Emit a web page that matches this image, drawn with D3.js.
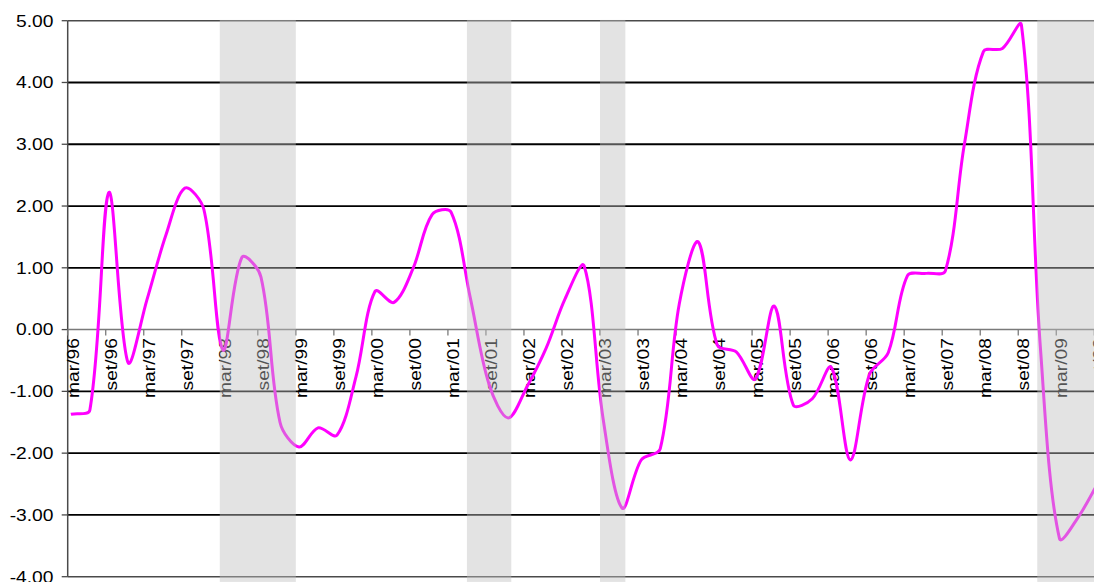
<!DOCTYPE html>
<html>
<head>
<meta charset="utf-8">
<script src="https://cdn.jsdelivr.net/npm/d3@7"></script>
<style>
  html, body { margin: 0; padding: 0; background: #fff; }
  svg { display: block; }
  text { font-family: "Liberation Sans", Arial, sans-serif; fill: #000; }
</style>
</head>
<body>
<svg id="chart" width="1094" height="582"></svg>
<script>
// Quarterly observations
const quarters = [
  "mar/96","jun/96","set/96","dez/96","mar/97","jun/97","set/97","dez/97",
  "mar/98","jun/98","set/98","dez/98","mar/99","jun/99","set/99","dez/99",
  "mar/00","jun/00","set/00","dez/00","mar/01","jun/01","set/01","dez/01",
  "mar/02","jun/02","set/02","dez/02","mar/03","jun/03","set/03","dez/03",
  "mar/04","jun/04","set/04","dez/04","mar/05","jun/05","set/05","dez/05",
  "mar/06","jun/06","set/06","dez/06","mar/07","jun/07","set/07","dez/07",
  "mar/08","jun/08","set/08","dez/08","mar/09","jun/09","set/09"
];
const values = [
  -1.37, -1.30,  2.22, -0.53,  0.48,  1.53,  2.29,  1.94,
  -0.33,  1.17,  0.85, -1.50, -1.90, -1.59, -1.71, -0.76,
   0.62,  0.44,  0.99,  1.86,  1.90,  0.53, -0.89, -1.43,
  -0.92, -0.30,  0.50,  1.03, -1.45, -2.89, -2.11, -1.93,
   0.41,  1.42, -0.25, -0.36, -0.80,  0.38, -1.22, -1.12,
  -0.61, -2.11, -0.73, -0.37,  0.87,  0.91,  0.95,  3.00,
   4.50,  4.55,  4.93, -0.30, -3.38, -3.03, -2.50
];

// Category-axis labels (every six months)
const tickLabels = [
  "mar/96","set/96","mar/97","set/97","mar/98","set/98","mar/99","set/99",
  "mar/00","set/00","mar/01","set/01","mar/02","set/02","mar/03","set/03",
  "mar/04","set/04","mar/05","set/05","mar/06","set/06","mar/07","set/07",
  "mar/08","set/08","mar/09","set/09"
];

// Value-axis ticks
const yTicks = [5, 4, 3, 2, 1, 0, -1, -2, -3, -4];

// Shaded periods: first month included, first month after
const shadedFrom = ["mar/98", "jun/01", "mar/03", "dez/08"];
const shadedTo   = ["mar/99", "jan/02", "jul/03", "set/09"];

const monthNum = {jan:0,fev:1,mar:2,abr:3,mai:4,jun:5,jul:6,ago:7,set:8,out:9,nov:10,dez:11};
function monthIndex(lbl) {
  const [m, yy] = lbl.split("/");
  const year = +yy > 50 ? 1900 + +yy : 2000 + +yy;
  return (year - 1996) * 12 + monthNum[m] - 2;
}

// Spreadsheet-style smoothed curve: cubic Béziers whose handle lengths
// are weighted by the lengths of the neighbouring segments.
function SmoothCurve(context) { this._context = context; }
SmoothCurve.prototype = {
  areaStart() {}, areaEnd() {},
  lineStart() { this._xs = []; this._ys = []; },
  point(px, py) { this._xs.push(+px); this._ys.push(+py); },
  lineEnd() {
    const xs = this._xs, ys = this._ys, n = xs.length, ctx = this._context;
    if (!n) return;
    const P = i => { const k = Math.max(0, Math.min(n - 1, i)); return [xs[k], ys[k]]; };
    const dist = (a, b) => Math.hypot(a[0] - b[0], a[1] - b[1]);
    const t = 1 / 3;
    ctx.moveTo(xs[0], ys[0]);
    for (let i = 0; i < n - 1; i++) {
      const p0 = P(i - 1), p1 = P(i), p2 = P(i + 1), p3 = P(i + 2);
      const d01 = dist(p0, p1), d12 = dist(p1, p2), d23 = dist(p2, p3);
      const f1 = (d01 + d12) > 0 ? t * d12 / (d01 + d12) : 0;
      const f2 = (d12 + d23) > 0 ? t * d12 / (d12 + d23) : 0;
      const c1 = [p1[0] + (p2[0] - p0[0]) * f1, p1[1] + (p2[1] - p0[1]) * f1];
      const c2 = [p2[0] - (p3[0] - p1[0]) * f2, p2[1] - (p3[1] - p1[1]) * f2];
      ctx.bezierCurveTo(c1[0], c1[1], c2[0], c2[1], p2[0], p2[1]);
    }
  }
};
const curveSmooth = ctx => new SmoothCurve(ctx);

const svg = d3.select("#chart");
const plotLeft = 67.7, plotTop = 20.7, plotBottom = 576.7, plotRight = 1094;
const nMonths = 162;

const x = d3.scaleLinear().domain([0, nMonths]).range([plotLeft, plotLeft + nMonths * 6.337]);
const y = d3.scaleLinear().domain([-4, 5]).range([plotBottom, plotTop]);

const LABEL_STRETCH = 1.18;
const FONT = 16.3;

// Horizontal gridlines
svg.append("g").selectAll("line")
  .data(yTicks.filter(v => v !== 0 && v !== 5 && v !== -4))
  .join("line")
  .attr("x1", plotLeft).attr("x2", plotRight)
  .attr("y1", d => y(d)).attr("y2", d => y(d))
  .attr("stroke", "#000").attr("stroke-width", 1.8);

// Plot frame top / bottom
svg.append("g").selectAll("line")
  .data([5, -4])
  .join("line")
  .attr("x1", plotLeft).attr("x2", plotRight)
  .attr("y1", d => y(d)).attr("y2", d => y(d))
  .attr("stroke", "#4a4a4a").attr("stroke-width", 1.5);

// Value axis
const yAxis = svg.append("g");
yAxis.append("line")
  .attr("x1", plotLeft).attr("x2", plotLeft)
  .attr("y1", plotTop).attr("y2", plotBottom)
  .attr("stroke", "#4a4a4a").attr("stroke-width", 1.5);
yAxis.selectAll("line.tick")
  .data(yTicks)
  .join("line")
  .attr("class", "tick")
  .attr("x1", plotLeft - 6).attr("x2", plotLeft)
  .attr("y1", d => y(d)).attr("y2", d => y(d))
  .attr("stroke", "#4a4a4a").attr("stroke-width", 1.3);
yAxis.selectAll("text")
  .data(yTicks)
  .join("text")
  .attr("transform", d => `translate(53.5,${y(d)}) scale(${LABEL_STRETCH},1)`)
  .attr("text-anchor", "end")
  .attr("dy", "0.36em")
  .style("font-size", FONT + "px")
  .text(d => d.toFixed(2));

// Category axis along zero
const xAxis = svg.append("g");
xAxis.append("line")
  .attr("x1", plotLeft).attr("x2", plotRight)
  .attr("y1", y(0)).attr("y2", y(0))
  .attr("stroke", "#7a7a7a").attr("stroke-width", 1.5);
xAxis.selectAll("line.tick")
  .data(tickLabels)
  .join("line")
  .attr("class", "tick")
  .attr("x1", (d, i) => x(i * 6)).attr("x2", (d, i) => x(i * 6))
  .attr("y1", y(0)).attr("y2", y(0) + 6)
  .attr("stroke", "#7a7a7a").attr("stroke-width", 1.3);
xAxis.selectAll("text")
  .data(tickLabels)
  .join("text")
  .attr("transform", (d, i) => `translate(${x(i * 6) + 11},${y(0) + 8.5}) rotate(-90) scale(${LABEL_STRETCH},1)`)
  .attr("text-anchor", "end")
  .style("font-size", FONT + "px")
  .text(d => d);

// Series line (smoothed)
const points = quarters.map((q, i) => ({ m: monthIndex(q), v: values[i] }));
const line = d3.line()
  .x(d => x(d.m + 0.5))
  .y(d => y(d.v))
  .curve(curveSmooth);
svg.append("path")
  .datum(points)
  .attr("d", line)
  .attr("fill", "none")
  .attr("stroke", "#ff00ff")
  .attr("stroke-width", 3)
  .attr("stroke-linejoin", "round");

// Shaded periods drawn over the plot
svg.append("g").selectAll("rect")
  .data(shadedFrom.map((f, i) => ({ from: monthIndex(f), to: monthIndex(shadedTo[i]) })))
  .join("rect")
  .attr("x", d => x(d.from))
  .attr("width", d => Math.min(x(d.to), plotRight) - x(d.from))
  .attr("y", plotTop - 0.75)
  .attr("height", plotBottom - plotTop + 6)
  .attr("fill", "rgb(192,192,192)")
  .attr("fill-opacity", 0.44);
</script>
</body>
</html>
